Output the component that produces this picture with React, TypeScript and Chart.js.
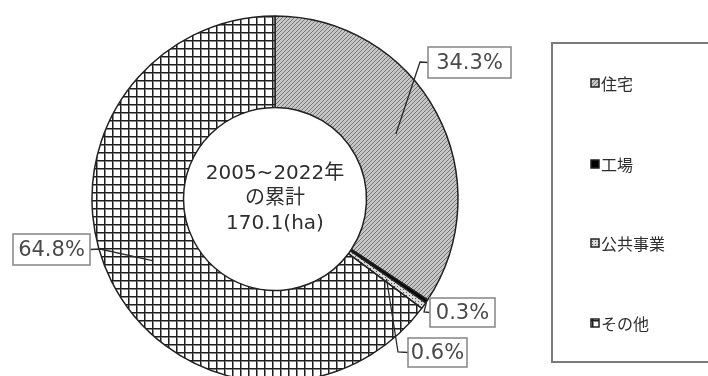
import { useEffect, useRef } from "react";
import { Chart, registerables } from "chart.js";

Chart.register(...registerables);

// Land-use shares (%) of the cumulative converted area
const categories = ["住宅", "工場", "公共事業", "その他"];
const shares = [34.3, 0.3, 0.6, 64.8];
const percentLabels = ["34.3%", "0.3%", "0.6%", "64.8%"];
const centerLines = ["2005~2022年", "の累計", "170.1(ha)"];

// Callout boxes: [x, y, w, h] and the elbow point of each leader line
const calloutBoxes = [
  [428, 47, 83, 31],
  [430, 298, 65, 29],
  [408, 338, 59, 29],
  [13, 234, 77, 31],
];
const calloutElbows = [
  [420, 62],
  [424, 312],
  [398, 352],
  [100, 249],
];
// Radial position of each leader end: "mid" = ring centre, "outer" = rim
const calloutAnchor = ["mid", "outer", "mid", "mid"];

const TEXT = "#2e2e2e";
const LABEL_FONT = '21px "DejaVu Sans", "Noto Sans CJK JP", sans-serif';
const CENTER_FONT = '20px "DejaVu Sans", "Noto Sans CJK JP", sans-serif';
const LEGEND_FONT = '16px "Noto Sans CJK JP", sans-serif';

function tile(size: number, draw: (c: CanvasRenderingContext2D) => void) {
  const cv = document.createElement("canvas");
  cv.width = size;
  cv.height = size;
  const c = cv.getContext("2d")!;
  draw(c);
  return c.createPattern(cv, "repeat")!;
}

function makeFills(): (string | CanvasPattern)[] {
  const hatch = tile(4, (c) => {
    c.fillStyle = "#c6c6c6";
    c.fillRect(0, 0, 4, 4);
    c.fillStyle = "#767676";
    for (let i = 0; i < 4; i++) c.fillRect(i, 3 - i, 1, 1);
  });
  const dots = tile(3, (c) => {
    c.fillStyle = "#dcdcdc";
    c.fillRect(0, 0, 3, 3);
    c.fillStyle = "#555";
    c.fillRect(1, 1, 1, 1);
  });
  const grid = tile(8, (c) => {
    c.fillStyle = "#ffffff";
    c.fillRect(0, 0, 8, 8);
    c.fillStyle = "#8a8a8a";
    c.fillRect(1, 0, 1, 8);
    c.fillRect(0, 1, 8, 1);
    c.fillStyle = "#1e1e1e";
    c.fillRect(0, 0, 1, 8);
    c.fillRect(0, 0, 8, 1);
  });
  return [hatch, "#000000", dots, grid];
}

const overlayPlugin = {
  id: "overlay",
  afterDraw(chart: any) {
    const ctx: CanvasRenderingContext2D = chart.ctx;
    const meta = chart.getDatasetMeta(0);
    const fills = chart.data.datasets[0].backgroundColor;
    const arc0 = meta.data[0];
    const cx = arc0.x;
    const cy = arc0.y;

    // centre caption
    ctx.save();
    ctx.fillStyle = TEXT;
    ctx.font = CENTER_FONT;
    ctx.textAlign = "center";
    ctx.textBaseline = "middle";
    const lineGap = 25;
    centerLines.forEach((t, i) => {
      ctx.fillText(t, cx, cy - lineGap + i * lineGap);
    });
    ctx.restore();

    // callouts with leader lines
    meta.data.forEach((arc: any, i: number) => {
      const { startAngle, endAngle, innerRadius, outerRadius } = arc.getProps(
        ["startAngle", "endAngle", "innerRadius", "outerRadius"],
        true
      );
      const mid = (startAngle + endAngle) / 2;
      const r =
        calloutAnchor[i] === "outer" ? outerRadius : (innerRadius + outerRadius) / 2;
      const ex = cx + Math.cos(mid) * r;
      const ey = cy + Math.sin(mid) * r;
      const [bx, by, bw, bh] = calloutBoxes[i];
      const [kx, ky] = calloutElbows[i];
      const side = kx < bx ? bx : bx + bw;

      ctx.save();
      ctx.strokeStyle = "#2a2a2a";
      ctx.lineWidth = 1.3;
      ctx.beginPath();
      ctx.moveTo(side, by + bh / 2);
      ctx.lineTo(kx, ky);
      ctx.lineTo(ex, ey);
      ctx.stroke();

      ctx.fillStyle = "#ffffff";
      ctx.fillRect(bx, by, bw, bh);
      ctx.strokeStyle = "#8c8c8c";
      ctx.lineWidth = 1.6;
      ctx.strokeRect(bx, by, bw, bh);
      ctx.fillStyle = "#4a4a4a";
      ctx.font = LABEL_FONT;
      ctx.textAlign = "center";
      ctx.textBaseline = "middle";
      ctx.fillText(percentLabels[i], bx + bw / 2, by + bh / 2 + 1);
      ctx.restore();
    });

    // legend panel
    ctx.save();
    ctx.strokeStyle = "#7a7a7a";
    ctx.lineWidth = 2;
    ctx.strokeRect(552, 43, 220, 319);
    const rows = [83, 164, 243, 323];
    chart.data.labels.forEach((name: string, i: number) => {
      const y = rows[i];
      ctx.fillStyle = fills[i];
      ctx.fillRect(591, y - 4, 8, 8);
      ctx.strokeStyle = "#222";
      ctx.lineWidth = 1.5;
      ctx.strokeRect(591, y - 4, 8, 8);
      ctx.fillStyle = TEXT;
      ctx.font = LEGEND_FONT;
      ctx.textAlign = "left";
      ctx.textBaseline = "middle";
      ctx.fillText(name, 601, y + 1);
    });
    ctx.restore();
  },
};

export default function App() {
  const ref = useRef<HTMLCanvasElement>(null);

  useEffect(() => {
    const canvas = ref.current!;
    const chart = new Chart(canvas, {
      type: "doughnut",
      data: {
        labels: categories,
        datasets: [
          {
            data: shares,
            backgroundColor: makeFills() as any,
            borderColor: "#222222",
            borderWidth: 1.5,
          },
        ],
      },
      options: {
        responsive: false,
        animation: false,
        radius: 183,
        cutout: "50%",
        layout: { padding: { left: 92, right: 250, top: 16, bottom: 2 } },
        plugins: {
          legend: { display: false },
          tooltip: { enabled: false },
        },
        events: [],
      } as any,
      plugins: [overlayPlugin],
    });
    return () => chart.destroy();
  }, []);

  return (
    <div
      style={{
        position: "fixed",
        left: 0,
        top: 0,
        width: 708,
        height: 376,
        overflow: "hidden",
        background: "#fff",
      }}
    >
      <canvas ref={ref} width={708} height={384} style={{ display: "block" }} />
    </div>
  );
}
